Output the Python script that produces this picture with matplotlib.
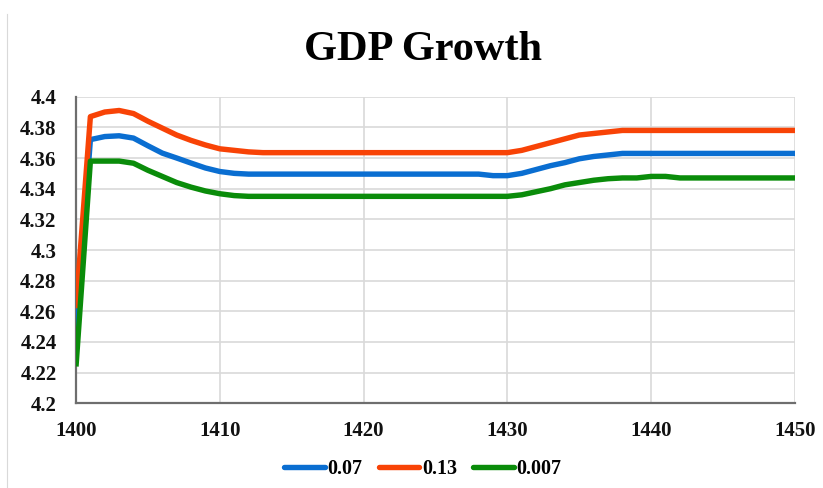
import matplotlib
matplotlib.use("Agg")
import matplotlib.pyplot as plt
from matplotlib.lines import Line2D

# ---- data -------------------------------------------------------------
years = list(range(1400, 1451))

rate_labels = ["0.07", "0.13", "0.007"]

gdp_007 = ([4.245, 4.372, 4.374, 4.3745, 4.373, 4.368, 4.3632, 4.360, 4.3567,
            4.3535, 4.3512, 4.350, 4.3495]
           + [4.3495] * 16
           + [4.3485, 4.3485, 4.350, 4.3525, 4.355, 4.357, 4.3595, 4.361,
              4.362, 4.363, 4.363]
           + [4.363] * 11)

gdp_013 = ([4.262, 4.387, 4.390, 4.391, 4.389, 4.384, 4.3795, 4.375, 4.3715,
            4.3685, 4.366, 4.365, 4.364]
           + [4.3635] * 18
           + [4.365, 4.3675, 4.370, 4.3725, 4.375, 4.376, 4.377, 4.378, 4.378]
           + [4.378] * 11)

gdp_0007 = ([4.224, 4.358, 4.358, 4.358, 4.3566, 4.352, 4.348, 4.344, 4.341,
             4.3385, 4.3367, 4.3355, 4.335]
            + [4.335] * 18
            + [4.336, 4.338, 4.340, 4.3425, 4.344, 4.3455, 4.3465, 4.347, 4.347]
            + [4.348, 4.348, 4.347] + [4.347] * 8)

x_ticks = [1400, 1410, 1420, 1430, 1440, 1450]
y_ticks = [4.2, 4.22, 4.24, 4.26, 4.28, 4.3, 4.32, 4.34, 4.36, 4.38, 4.4]
y_tick_labels = ["4.2", "4.22", "4.24", "4.26", "4.28", "4.3",
                 "4.32", "4.34", "4.36", "4.38", "4.4"]

# ---- style ------------------------------------------------------------
colors = ["#0A6ED1", "#F84306", "#0A8C0A"]
serif = "Liberation Serif"

W, H = 823, 488
fig = plt.figure(figsize=(W / 100, H / 100), dpi=100)
fig.patch.set_facecolor("white")

# faint outer frame edge on the left
fig.add_artist(Line2D([6.5 / W, 6.5 / W], [0, 1 - 14 / H],
                      transform=fig.transFigure, color="#D9D9D9", lw=0.8))

left, right, top, bottom = 76, 795, 96.7, 403.3
ax = fig.add_axes([left / W, 1 - bottom / H, (right - left) / W, (bottom - top) / H])

series = [gdp_007, gdp_013, gdp_0007]
for vals, c, lab in zip(series, colors, rate_labels):
    ax.plot(years, vals, color=c, lw=3.9, solid_capstyle="butt",
            solid_joinstyle="round", label=lab, zorder=3)

ax.set_xlim(1400, 1450)
ax.set_ylim(4.2, 4.4)
ax.set_xticks(x_ticks)
ax.set_yticks(y_ticks)
ax.set_yticklabels(y_tick_labels)

ax.grid(True, color="#D9D9D9", lw=1.2, zorder=0)
ax.set_axisbelow(True)
for s in ["top", "right"]:
    ax.spines[s].set_visible(False)
for s in ["left", "bottom"]:
    ax.spines[s].set_color("#6E6E6E")
    ax.spines[s].set_linewidth(1.6)

ax.tick_params(axis="both", length=0)
ax.tick_params(axis="y", pad=14)
ax.tick_params(axis="x", pad=13)
for lbl in ax.get_xticklabels() + ax.get_yticklabels():
    lbl.set_fontfamily(serif)
    lbl.set_fontweight("bold")
    lbl.set_fontsize(15)
    lbl.set_color("#111111")

fig.text(423 / W, 1 - 50 / H, "GDP Growth", ha="center", va="center",
         fontfamily=serif, fontweight="bold", fontsize=30.5, color="#000000")

handles = [Line2D([0], [0], color=c, lw=3.9, solid_capstyle="round") for c in colors]
leg = fig.legend(handles, rate_labels, loc="center",
                 bbox_to_anchor=(423 / W, 1 - 469 / H), ncol=3, frameon=False,
                 handlelength=2.0, handletextpad=0.15, columnspacing=0.8,
                 prop={"family": serif, "weight": "bold", "size": 14.5})

fig.savefig("out.png", dpi=100, facecolor="white")
